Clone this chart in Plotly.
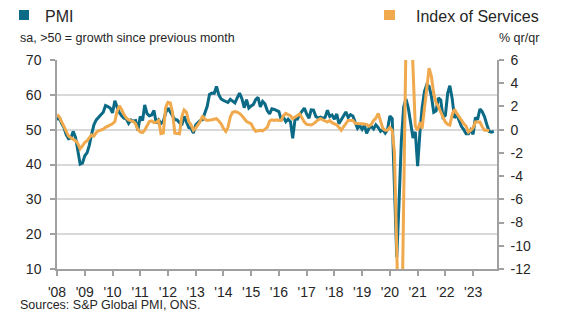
import pandas as pd
import plotly.graph_objects as go

# UK services PMI (sa, >50 = growth), monthly Jan 2008 - Oct 2023
pmi = [
    52.8, 53.6, 51.8, 50.6, 48.6, 47.4, 47.6, 49.5, 47.8, 43.4, 40.1, 40.4,   # 2008
    42.5, 43.4, 45.5, 48.7, 51.4, 52.8, 53.4, 54.3, 55.0, 56.9, 56.6, 56.2,   # 2009
    54.8, 58.3, 56.6, 54.9, 54.0, 53.3, 53.1, 51.8, 52.8, 52.4, 52.6, 49.8,   # 2010
    53.8, 52.6, 57.1, 54.6, 54.0, 54.2, 55.5, 51.8, 52.8, 51.8, 52.4, 54.8,   # 2011
    56.2, 55.0, 53.8, 52.9, 52.8, 51.9, 51.3, 53.8, 52.3, 50.6, 50.4, 49.0,   # 2012
    51.4, 52.2, 52.6, 52.9, 54.9, 56.7, 60.1, 60.5, 60.4, 62.4, 60.0, 58.8,   # 2013
    58.4, 58.2, 57.8, 58.7, 58.3, 57.7, 59.1, 60.5, 58.9, 56.3, 58.6, 56.2,   # 2014
    56.8, 57.3, 58.6, 59.3, 56.5, 58.1, 57.4, 55.5, 54.5, 56.0, 55.8, 55.6,   # 2015
    55.2, 52.8, 53.6, 52.3, 53.0, 52.3, 47.5, 53.1, 53.0, 54.4, 55.2, 56.2,   # 2016
    54.5, 53.3, 55.7, 55.6, 53.8, 53.4, 53.6, 53.2, 53.6, 55.6, 53.8, 54.2,   # 2017
    53.0, 54.5, 51.7, 52.8, 54.0, 55.1, 53.5, 54.3, 53.9, 52.2, 50.4, 51.2,   # 2018
    50.1, 51.3, 48.9, 50.4, 51.0, 50.2, 51.4, 50.6, 49.5, 50.0, 49.0, 50.0,   # 2019
    53.9, 53.2, 34.5, 13.4, 29.0, 47.1, 56.5, 58.8, 56.1, 51.4, 47.6, 49.4,   # 2020
    39.5, 49.5, 56.3, 61.0, 62.9, 62.4, 59.6, 55.0, 55.4, 59.1, 58.5, 53.6,   # 2021
    54.1, 60.5, 62.6, 58.9, 53.4, 54.3, 52.6, 50.9, 50.0, 48.8, 48.8, 49.9,   # 2022
    48.7, 53.5, 52.9, 55.9, 55.2, 53.7, 51.5, 49.5, 49.3, 49.5,               # 2023
]

# Index of Services, % 3m/3m, monthly Jan 2008 - Aug 2023
ios = [
    1.3, 1.1, 0.7, 0.3, -0.2, -0.55, -0.7, -0.8, -0.95, -1.2, -1.65, -1.4,     # 2008
    -1.1, -0.95, -0.7, -0.45, -0.55, -0.25, -0.1, -0.05, 0.05, 0.2, 0.3, 0.35,  # 2009
    0.5, 0.7, 1.55, 2.05, 1.75, 1.3, 1.0, 0.85, 0.8, 0.7, 0.5, 0.0,            # 2010
    -0.2, -0.25, -0.05, 0.4, 0.7, 0.75, 0.6, 0.65, 0.8, -0.35, -0.3, 1.9,      # 2011
    2.35, 2.3, 1.5, -0.3, -0.35, -0.35, 1.1, 1.7, 1.5, 0.7, 0.4, -0.05,        # 2012
    0.15, 0.45, 0.7, 1.2, 0.9, 0.8, 0.8, 0.85, 0.9, 0.95, 0.75, 0.5,           # 2013
    0.1, -0.15, 0.2, 1.1, 1.5, 1.55, 1.5, 1.4, 1.2, 0.95, 0.7, 0.6,            # 2014
    0.5, 0.1, -0.15, -0.1, -0.05, -0.1, 0.05, 0.2, 0.75, 0.85, 0.8, 0.85,      # 2015
    0.8, 0.8, 1.2, 1.4, 1.3, 1.2, 0.95, 1.1, 1.25, 1.35, 1.0, 0.65,            # 2016
    0.45, 0.4, 0.4, 0.5, 0.7, 0.85, 0.95, 0.85, 0.75, 0.65, 0.8, 0.6,          # 2017
    0.5, 0.4, 0.2, -0.05, 0.25, 0.55, 0.8, 0.8, 0.8, 0.55, 0.5, 0.5,           # 2018
    0.5, 0.5, 0.45, 0.3, 0.45, 0.8, 1.0, 1.4, 0.8, 0.1, -0.05, -0.05,          # 2019
    0.2, -0.05, -1.9, -9.8, -18.5, -19.7, -7.7, 7.8, 15.4, 10.6, 4.6, 0.3,     # 2020
    -0.05, 0.65, 0.1, 2.0, 3.6, 5.3, 4.6, 3.1, 2.3, 2.0, 1.5, 1.1,             # 2021
    0.65, 0.45, 0.4, 1.3, 1.75, 1.4, 1.1, 0.7, 0.5, 0.3, -0.2, -0.05,          # 2022
    0.15, 0.65, 0.65, 0.65, 0.25, -0.05, -0.05, -0.1,                          # 2023
]

years = list(range(2008, 2024))
year_ticks = [f"{y}-01-01" for y in years]
year_labels = [f"'{str(y)[2:]}" for y in years]
left_ticks = [10, 20, 30, 40, 50, 60, 70]
right_ticks = [-12, -10, -8, -6, -4, -2, 0, 2, 4, 6]
right_labels = [str(v) for v in right_ticks]

pmi_dates = pd.date_range("2008-01-01", periods=len(pmi), freq="MS")
ios_dates = pd.date_range("2008-01-01", periods=len(ios), freq="MS")

TEAL = "#0b6a85"
ORANGE = "#f0a94c"
AXIS = "#a0a0a0"
GRID = "#d9d9d9"
TXT = "#262626"
FONT = "Liberation Sans, Arial, sans-serif"

fig = go.Figure()
fig.add_trace(go.Scatter(x=pmi_dates, y=pmi, mode="lines", name="PMI",
                         line=dict(color=TEAL, width=3), yaxis="y"))
fig.add_trace(go.Scatter(x=ios_dates, y=ios, mode="lines", name="Index of Services",
                         line=dict(color=ORANGE, width=3), yaxis="y2"))

W, H = 575, 325
L, R, T, B = 57, 78, 60, 56
pw, ph = W - L - R, H - T - B

def px(x):
    return (x - L) / pw

def py(y):
    return (H - B - y) / ph

fig.update_layout(
    width=W, height=H,
    margin=dict(l=L, r=R, t=T, b=B, pad=0),
    paper_bgcolor="white", plot_bgcolor="white",
    showlegend=False,
    font=dict(family=FONT, color=TXT, size=14),
    xaxis=dict(
        type="date", range=["2008-01-01", "2023-11-12"],
        tickvals=year_ticks, ticktext=year_labels,
        showgrid=False, showline=True, linecolor=AXIS, linewidth=1.5,
        ticks="outside", ticklen=5, tickcolor=AXIS, tickwidth=1.5,
        tickfont=dict(size=14, color=TXT), zeroline=False,
        ticklabelstandoff=4,
    ),
    yaxis=dict(
        range=[10, 70], tickvals=left_ticks,
        showgrid=True, gridcolor=GRID, gridwidth=1.5,
        showline=True, linecolor=AXIS, linewidth=1.5,
        ticks="outside", ticklen=5, tickcolor=AXIS, tickwidth=1.5,
        tickfont=dict(size=14, color=TXT), zeroline=False,
        ticklabelstandoff=6,
    ),
    yaxis2=dict(
        range=[-12, 6], tickvals=right_ticks, ticktext=right_labels,
        overlaying="y", side="right", anchor="x",
        showgrid=False, showline=True, linecolor=AXIS, linewidth=1.5,
        ticks="outside", ticklen=5, tickcolor=AXIS, tickwidth=1.5,
        tickfont=dict(size=14, color=TXT), zeroline=False,
        ticklabelstandoff=4,
    ),
)

# legend squares
fig.add_shape(type="rect", xref="paper", yref="paper",
              x0=px(19), x1=px(29), y0=py(20), y1=py(10),
              fillcolor=TEAL, line=dict(width=0))
fig.add_shape(type="rect", xref="paper", yref="paper",
              x0=px(384), x1=px(395), y0=py(20), y1=py(10),
              fillcolor=ORANGE, line=dict(width=0))

ann = [
    dict(text="PMI", x=px(43), y=py(16), xanchor="left", size=16),
    dict(text="Index of Services", x=px(541), y=py(16), xanchor="right", size=16),
    dict(text="sa, >50 = growth since previous month", x=px(18), y=py(38), xanchor="left", size=12.5),
    dict(text="% qr/qr", x=px(541), y=py(38), xanchor="right", size=12.5),
    dict(text="Sources: S&P Global PMI, ONS.", x=px(18), y=py(305), xanchor="left", size=12.5),
]
for a in ann:
    fig.add_annotation(text=a["text"], x=a["x"], y=a["y"], xref="paper", yref="paper",
                       xanchor=a["xanchor"], yanchor="middle", showarrow=False,
                       font=dict(size=a["size"], color=TXT, family=FONT))

fig.write_html("out.html")
